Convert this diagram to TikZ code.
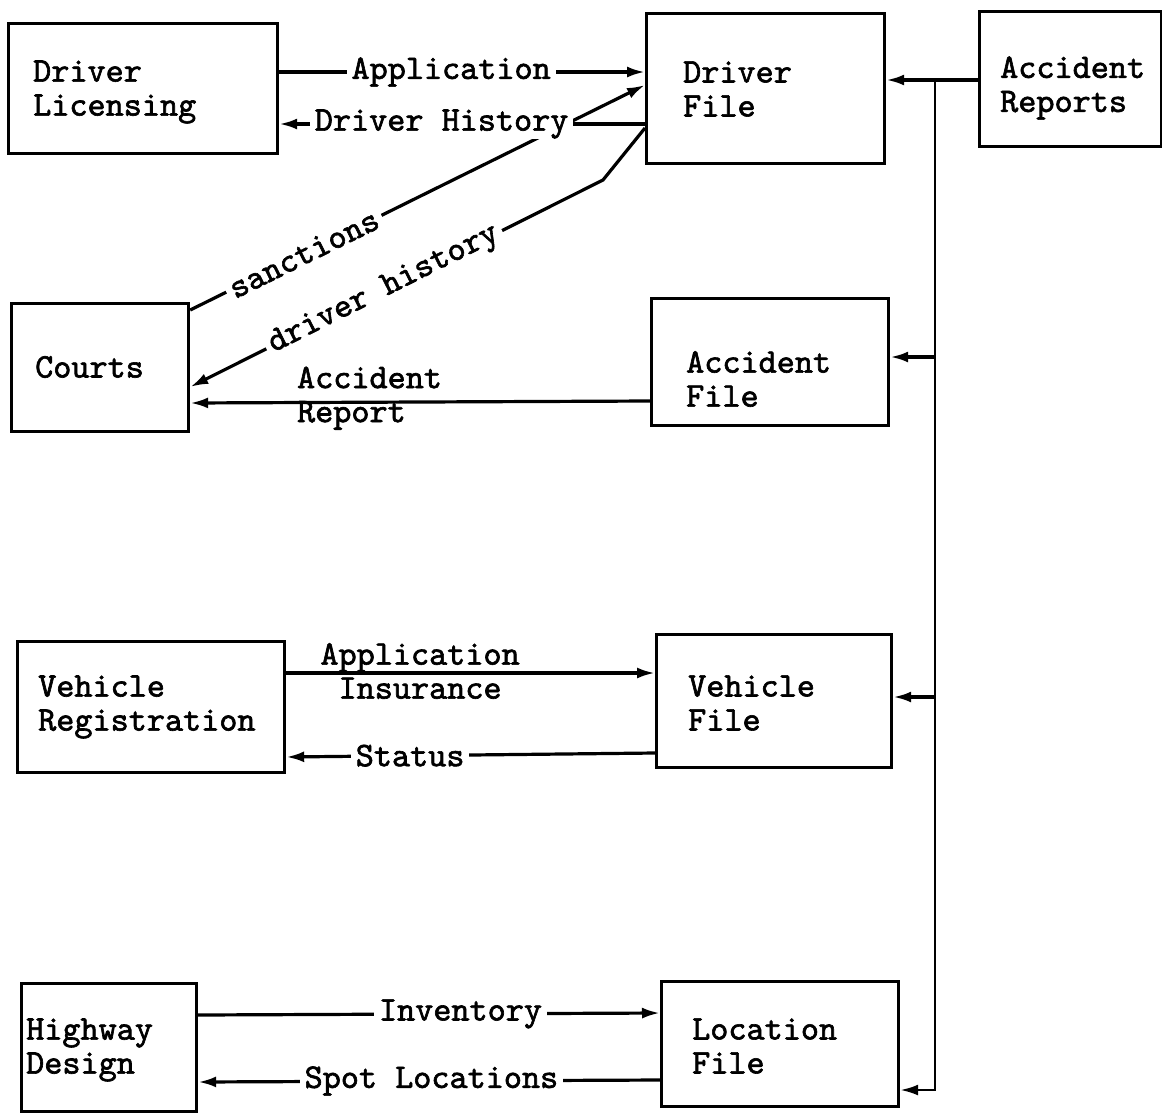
\documentclass[tikz,border=0pt]{standalone}
\usepackage{fontspec}
\newfontfamily\typefont[FakeBold=1.8]{lmmono10-regular.otf}
\usetikzlibrary{arrows.meta}
\begin{document}
\begin{tikzpicture}[x=1pt,y=-1pt,
  box/.style={draw, line width=3.2pt, inner sep=0pt, anchor=north west},
  txt/.style={font=\typefont\fontsize{34.5}{34}\selectfont, align=left, anchor=west, inner sep=0pt},
  flow/.style={line width=3.2pt, -{Latex[length=18pt,width=11pt]}},
  lbl/.style={font=\typefont\fontsize{34.5}{34}\selectfont, fill=white, inner xsep=5pt, inner ysep=1pt},
  lbltwo/.style={font=\typefont\fontsize{34.5}{34}\selectfont, inner sep=0pt},
]
\useasboundingbox (0,0) rectangle (1162,1112);

% boxes
\node[box, minimum width=269pt, minimum height=130pt] (dl) at (7,22) {};
\node[box, minimum width=238pt, minimum height=150pt] (df) at (645,12) {};
\node[box, minimum width=182pt, minimum height=135pt] (ar) at (978,10) {};
\node[box, minimum width=177pt, minimum height=128pt] (co) at (10,302) {};
\node[box, minimum width=237pt, minimum height=127pt] (af) at (650,297) {};
\node[box, minimum width=267pt, minimum height=131pt] (vr) at (16,640) {};
\node[box, minimum width=235pt, minimum height=133pt] (vf) at (655,633) {};
\node[box, minimum width=175pt, minimum height=128pt] (hd) at (20,982) {};
\node[box, minimum width=237pt, minimum height=125pt] (lf) at (660,980) {};

% box texts
\node[txt] (dl-t) at (33,92) {Driver\\Licensing};
\node[txt] (df-t) at (683,89) {Driver\\File};
\node[txt] (ar-t) at (1000,88) {Accident\\Reports};
\node[txt] (co-t) at (35,367) {Courts};
\node[txt] (af-t) at (686,379) {Accident\\File};
\node[txt] (vr-t) at (38,707) {Vehicle\\Registration};
\node[txt] (vf-t) at (688,703) {Vehicle\\File};
\node[txt] (hd-t) at (26,1050) {Highway\\Design};
\node[txt] (lf-t) at (692,1046) {Location\\File};

% driver licensing <-> driver file
\draw[flow] (dl.east |- 0,72) -- node[lbl, pos=0.47] (l-app) {Application} (df.west |- 0,72);

% courts <-> driver file
\draw[flow] (co.east |- 0,310) -- node[lbl, sloped, pos=0.25] (l-san) {sanctions} (df.west |- 0,85);
\coordinate (kink) at (603,180);
\draw[flow] (df.west |- 0,128) -- (kink) -- node[lbl, sloped, pos=0.53] (l-dh) {driver history} (co.east |- 0,387);

\draw[flow] (df.west |- 0,124) -- node[lbl, pos=0.556] (l-DH) {Driver History} (dl.east |- 0,124);

% accident file -> courts
\draw[flow] (af.west |- 0,401) -- node[lbltwo, pos=0.61, align=left, yshift=4pt] (l-ar) {Accident\\Report} (co.east |- 0,403);

% vehicle registration <-> vehicle file
\draw[flow] (vr.east |- 0,673) -- node[lbltwo, pos=0.363, align=center, yshift=2pt] (l-ai) {Application\\Insurance} (vf.west |- 0,673);
\draw[flow] (vf.west |- 0,753) -- node[lbl, pos=0.664] (l-st) {Status} (vr.east |- 0,757);

% highway design <-> location file
\draw[flow] (hd.east |- 0,1015) -- node[lbl, pos=0.568] (l-inv) {Inventory} (lf.west |- 0,1013);
\draw[flow] (lf.west |- 0,1080) -- node[lbl, pos=0.495] (l-spot) {Spot Locations} (hd.east |- 0,1082);

% accident reports distribution bus
\coordinate (bt) at (935,80);
\coordinate (b1) at (935,357);
\coordinate (b2) at (935,697);
\coordinate (bb) at (935,1090);
\draw[flow] (ar.west |- bt) -- (bt) -- (df.east |- bt);
\draw[flow, line width=2.6pt] (bt) -- (bb) -- (lf.east |- bb);
\draw[flow] (b1) -- (af.east |- b1);
\draw[flow] (b2) -- (vf.east |- b2);
\end{tikzpicture}
\end{document}
